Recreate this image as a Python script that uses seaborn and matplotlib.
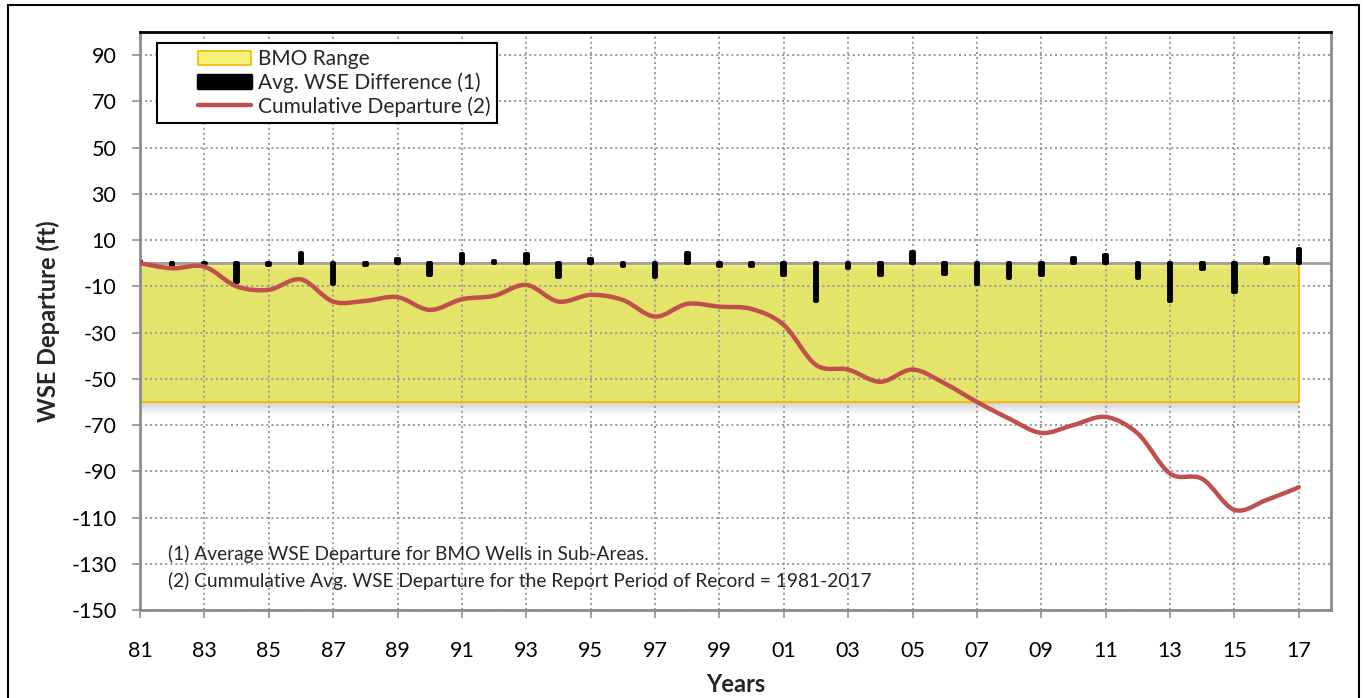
import numpy as np
import matplotlib
matplotlib.use("Agg")
import matplotlib.pyplot as plt
import seaborn as sns
from matplotlib.path import Path
from matplotlib.patches import PathPatch, Patch, Rectangle
from matplotlib.lines import Line2D
from matplotlib.legend_handler import HandlerBase

# ---------------- data ----------------
years = list(range(1981, 2018))
avg_wse_diff = [1, -1.5, 0.3, -8, -0.8, 4.5, -9, -0.8, 2, -5, 4, 1, 4,
                -6, 2, -1.3, -6, 4.2, -1, -1,
                -5, -16.3, -2, -5, 5, -4.7, -8.8, -6.6, -5.2,
                2.2, 3.5, -6.3, -16.3, -2.3, -12.4, 2.4, 6.3]
cumulative_departure = [0, -2.2, -1.5, -10, -11.5, -7, -16.6, -16.3, -14.7, -20.2, -15.6, -14.1, -9.4,
                        -16.6, -13.7, -15.9, -23.1, -17.6, -18.8, -19.8,
                        -26.7, -44, -46, -51.3, -46, -52, -60, -67.2, -73.4,
                        -70, -66.5, -73.7, -91, -93.3, -106.7, -102.4, -96.9]
bmo_top = [0] * len(years)
bmo_bottom = [-60] * len(years)
y_ticks = list(range(-150, 91, 20))
x_ticks = list(range(1981, 2018, 2))
legend_labels = ["BMO Range", "Avg. WSE Difference (1)", "Cumulative Departure (2)"]
notes = ["(1) Average WSE Departure for BMO Wells in Sub-Areas.",
         "(2) Cummulative Avg. WSE Departure for the Report Period of Record = 1981-2017"]

# ---------------- style ----------------
sns.set_theme(style="white")
plt.rcParams['font.family'] = ['Lato', 'DejaVu Sans']

fig = plt.figure(figsize=(13.64, 6.98), dpi=100)
ax = fig.add_axes([140 / 1364, 1 - 610 / 698, 1191 / 1364, 578 / 698])

YELLOW = "#e5e46a"
ORANGE = "#f5b800"
RED = "#c0504d"
GRID = "#9a9a9a"

# BMO range fill
ax.fill_between(years, bmo_top, bmo_bottom, color=YELLOW, lw=0, zorder=0.2)
for i, a in enumerate(np.linspace(0.9, 0.1, 6)):
    ax.fill_between(years, [v - 0.5 * i for v in bmo_top], [v - 0.5 * (i + 1) for v in bmo_top],
                    color="#f7f47e", alpha=a, lw=0, zorder=0.25)
for i, a in enumerate(np.linspace(0.35, 0.02, 8)):
    ax.fill_between(years, [v - 0.7 * i for v in bmo_bottom], [v - 0.7 * (i + 1) for v in bmo_bottom],
                    color="#808080", alpha=a, lw=0, zorder=0.15)
ax.plot([years[0], years[-1], years[-1], years[0]],
        [bmo_top[0], bmo_top[-1], bmo_bottom[-1], bmo_bottom[0]],
        color=ORANGE, lw=1.3, zorder=0.6)

# zero line
ax.axhline(0, color="#a0a0a0", lw=2, zorder=1.5)

# bars (avg WSE difference)
sns.barplot(x=years, y=avg_wse_diff, native_scale=True, width=0.08, color="black",
            edgecolor="black", linewidth=2.8, errorbar=None, ax=ax, zorder=2,
            saturation=1)
for p in ax.patches:
    p.set_joinstyle("round")
    p.set_capstyle("round")

# smoothed cumulative line (Excel-style Bezier smoothing through the data points)
xs = np.array(years, dtype=float)
ys = np.array(cumulative_departure, dtype=float)
verts = [(xs[0], ys[0])]
codes = [Path.MOVETO]
n = len(xs)
for i in range(n - 1):
    p0 = np.array([xs[max(i - 1, 0)], ys[max(i - 1, 0)]])
    p1 = np.array([xs[i], ys[i]])
    p2 = np.array([xs[i + 1], ys[i + 1]])
    p3 = np.array([xs[min(i + 2, n - 1)], ys[min(i + 2, n - 1)]])
    c1 = p1 + (p2 - p0) / 6
    c2 = p2 - (p3 - p1) / 6
    verts += [tuple(c1), tuple(c2), tuple(p2)]
    codes += [Path.CURVE4] * 3
ax.add_patch(PathPatch(Path(verts, codes), facecolor="none", edgecolor=RED, lw=3.2,
                       capstyle="round", joinstyle="round", zorder=3))

# axes limits / ticks
ax.set_xlim(1981, 2018)
ax.set_ylim(-150, 100)
ax.set_xticks(x_ticks)
ax.set_xticklabels([f"{y % 100:02d}" for y in x_ticks])
ax.set_yticks(y_ticks)
ax.set_yticklabels([str(v) for v in y_ticks])
ax.tick_params(axis="both", which="both", direction="out", length=6, width=1.2,
               color="#909090", labelsize=15.5, labelcolor="black")
ax.tick_params(axis="x", pad=16, bottom=True)
ax.tick_params(axis="y", pad=11, left=True)

ax.grid(True, color=GRID, lw=1.4, linestyle=(0, (1, 1.6)), zorder=0.5)
ax.set_axisbelow(True)

for side in ["left", "bottom", "right"]:
    ax.spines[side].set_color("#8c8c8c")
    ax.spines[side].set_linewidth(2)
ax.spines["top"].set_color("black")
ax.spines["top"].set_linewidth(2)

ax.set_xlabel("Years", fontsize=17, fontweight="bold", labelpad=9)
ax.set_ylabel("WSE Departure (ft)", fontsize=17, fontweight="bold", labelpad=8)

# notes
ax.text((168 - 140) / 1191, (610 - 554) / 578, notes[0], transform=ax.transAxes,
        fontsize=13.8, va="center", ha="left")
ax.text((168 - 140) / 1191, (610 - 581) / 578, notes[1], transform=ax.transAxes,
        fontsize=13.8, va="center", ha="left")


# legend: handles sit on the right part of a wider handle box (as in the original)
class RightHandler(HandlerBase):
    def __init__(self, kind, frac):
        super().__init__()
        self.kind = kind
        self.frac = frac

    def create_artists(self, legend, orig_handle, xdescent, ydescent, width, height,
                       fontsize, trans):
        w = width * self.frac
        x0 = -xdescent + width - w
        if self.kind == "line":
            art = Line2D([x0, x0 + w], [height / 2 - ydescent] * 2, color=orig_handle.get_color(),
                         lw=orig_handle.get_linewidth(), solid_capstyle="round", transform=trans)
        else:
            art = Rectangle((x0, -ydescent), w, height, facecolor=orig_handle.get_facecolor(),
                            edgecolor=orig_handle.get_edgecolor(), lw=orig_handle.get_linewidth(),
                            joinstyle="round", transform=trans)
        return [art]


h_bmo = Patch(facecolor="#f5f27a", edgecolor=ORANGE, lw=1.2)
h_bar = Patch(facecolor="black", edgecolor="black", lw=2.5)
h_line = Line2D([0], [0], color=RED, lw=3.2)
frac = 52 / 87
leg = ax.legend([h_bmo, h_bar, h_line], legend_labels, loc="upper left",
                bbox_to_anchor=((157 - 140) / 1191, 1 - (43 - 32) / 578),
                fontsize=15, frameon=True, fancybox=False, shadow=False,
                handlelength=4.2, handleheight=0.6, handletextpad=0.33,
                labelspacing=0.15, borderpad=0.3, borderaxespad=0, framealpha=1,
                handler_map={h_bmo: RightHandler("patch", frac),
                             h_bar: RightHandler("patch", frac),
                             h_line: RightHandler("line", frac)})
leg.get_frame().set_edgecolor("black")
leg.get_frame().set_linewidth(1.5)
leg.set_zorder(5)

# outer figure border
fig.patches.append(Rectangle((8 / 1364, -0.01), (1359 - 8) / 1364, 1 - 5 / 698 + 0.01,
                             transform=fig.transFigure, fill=False, edgecolor="black",
                             lw=1.5, zorder=10))

fig.savefig("out.png", dpi=100)
